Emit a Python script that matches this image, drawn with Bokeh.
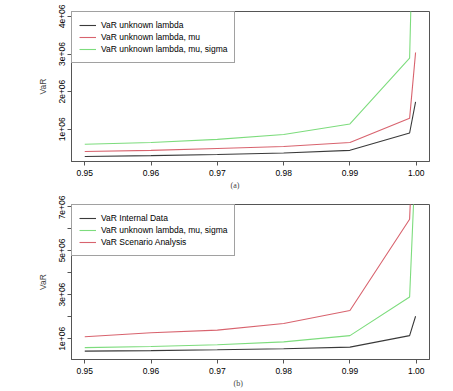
from bokeh.plotting import figure
from bokeh.layouts import column
from bokeh.models import (FixedTicker, Title, Legend, LegendItem, Range1d,
                          PrintfTickFormatter)
from bokeh.embed import file_html
from bokeh.resources import INLINE

# ---- data ----
x_levels = [0.95, 0.96, 0.97, 0.98, 0.99, 0.999, 0.9999]

# panel (a)
var_lambda = [0.276e6, 0.30e6, 0.33e6, 0.37e6, 0.44e6, 0.90e6, 1.73e6]
var_lambda_mu = [0.41e6, 0.44e6, 0.49e6, 0.54e6, 0.65e6, 1.29e6, 3.04e6]
var_lambda_mu_sigma = [0.60e6, 0.65e6, 0.73e6, 0.86e6, 1.14e6, 2.89e6, 9.3e6]

# panel (b)
var_internal = [0.44e6, 0.46e6, 0.50e6, 0.55e6, 0.62e6, 1.14e6, 2.02e6]
var_scenario = [1.09e6, 1.27e6, 1.39e6, 1.69e6, 2.28e6, 6.41e6, 13.0e6]

x_ticks = [0.95, 0.96, 0.97, 0.98, 0.99, 1.00]
y_ticks_a = [1e6, 2e6, 3e6, 4e6]
y_labels_a = ["1e+06", "2e+06", "3e+06", "4e+06"]
y_ticks_b = [1e6, 2e6, 3e6, 4e6, 5e6, 6e6, 7e6]
y_labels_b = ["1e+06", "", "3e+06", "", "5e+06", "", "7e+06"]

names_a = ["VaR unknown lambda", "VaR unknown lambda, mu", "VaR unknown lambda, mu, sigma"]
names_b = ["VaR Internal Data", "VaR unknown lambda, mu, sigma", "VaR Scenario Analysis"]

BLACK = "#3a3a3a"
RED = "#d8636e"
GREEN = "#7ddc7d"
FONT = "Liberation Sans"
FS = "8.5px"


def panel(height, yr, borders, series, colors, names, yt, yl, caption, cap_off):
    p = figure(width=453, height=height, x_range=Range1d(0.948, 1.002),
               y_range=Range1d(*yr), output_backend="svg", toolbar_location=None,
               min_border_left=borders[0], min_border_right=borders[1],
               min_border_top=borders[2], min_border_bottom=borders[3])
    p.xgrid.visible = False
    p.ygrid.visible = False
    p.outline_line_color = "#555555"
    p.outline_line_width = 1
    p.background_fill_color = "white"
    p.border_fill_color = "white"

    items = []
    for ys, c, n in zip(series, colors, names):
        r = p.line(x_levels, ys, line_color=c, line_width=1.1)
        items.append(LegendItem(label=n, renderers=[r]))

    leg = Legend(items=items, location="top_left", margin=0, padding=7,
                 spacing=0, label_height=12, glyph_height=12, glyph_width=17,
                 label_standoff=5, border_line_color="#444444",
                 border_line_width=1, background_fill_alpha=1.0,
                 label_text_font=FONT, label_text_font_size=FS,
                 label_text_color="black")
    p.add_layout(leg)

    for ax in (p.xaxis[0], p.yaxis[0]):
        ax.axis_line_color = "#555555"
        ax.major_tick_line_color = "#555555"
        ax.major_tick_out = 4
        ax.major_tick_in = 0
        ax.minor_tick_line_color = None
        ax.major_label_text_font = FONT
        ax.major_label_text_font_size = FS
        ax.major_label_text_color = "black"

    p.xaxis.ticker = FixedTicker(ticks=x_ticks)
    p.xaxis.formatter = PrintfTickFormatter(format="%.2f")
    p.xaxis.major_label_standoff = 4

    p.yaxis.ticker = FixedTicker(ticks=yt)
    p.yaxis.major_label_overrides = {t: l for t, l in zip(yt, yl)}
    p.yaxis.major_label_orientation = "vertical"
    p.yaxis.major_label_standoff = 2
    p.yaxis.axis_label = "VaR"
    p.yaxis.axis_label_text_font = FONT
    p.yaxis.axis_label_text_font_size = FS
    p.yaxis.axis_label_text_font_style = "normal"
    p.yaxis.axis_label_standoff = 9

    p.add_layout(Title(text=caption, align="left", offset=cap_off,
                       text_font="Liberation Serif", text_font_size="8px",
                       text_font_style="normal", standoff=0), "below")
    return p


p1 = panel(195, (0.143e6, 4.13e6), (71, 24, 11, 34),
           [var_lambda, var_lambda_mu, var_lambda_mu_sigma],
           [BLACK, RED, GREEN], names_a, y_ticks_a, y_labels_a, "(a)", 159)
p2 = panel(196, (0.06e6, 7.08e6), (68, 17, 9, 32),
           [var_internal, var_lambda_mu_sigma, var_scenario],
           [BLACK, GREEN, RED], names_b, y_ticks_b, y_labels_b, "(b)", 162)

layout = column(p1, p2)
open("out.html", "w").write(file_html(layout, INLINE))
